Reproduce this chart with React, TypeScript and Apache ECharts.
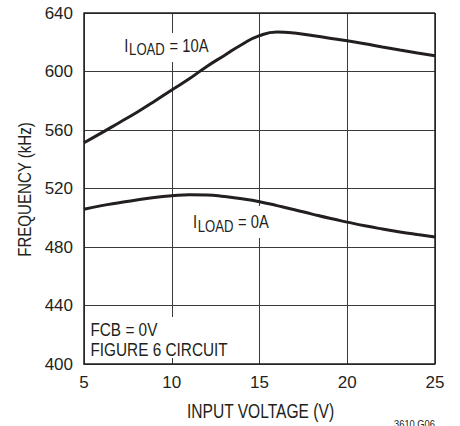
import React, { useEffect, useRef } from "react";
import * as echarts from "echarts";

const inputVoltage = [5, 6, 7, 8, 9, 10, 11, 12, 13, 14, 15, 16, 17, 18, 19, 20, 21, 22, 23, 24, 25];
const load10A = [551.3, 558, 565, 572, 579.5, 587.4, 595, 603.5, 611, 618.5, 624.5, 627, 626.3, 624.6, 622.8, 621, 619, 616.8, 614.7, 612.7, 610.8];
const load0A = [505.8, 508.3, 510.3, 512.2, 513.8, 515, 515.8, 515.6, 514.5, 513, 511, 508.3, 505.5, 502.5, 499.6, 497, 494.5, 492.3, 490.3, 488.5, 486.8];

const xAxisTitle = "INPUT VOLTAGE (V)";
const yAxisTitle = "FREQUENCY (kHz)";
const noteLines = ["FCB = 0V", "FIGURE 6 CIRCUIT"];
const figureCode = "3610 G06";

const INK = "#231f20";
const FONT = "'Liberation Sans', Arial, sans-serif";

export default function App() {
  const ref = useRef<HTMLDivElement>(null);

  useEffect(() => {
    document.body.style.margin = "0";
    if (!ref.current) return;
    const chart = echarts.init(ref.current, null, { renderer: "svg" });

    const textEl = (
      x: number,
      y: number,
      text: string,
      size: number,
      sx = 0.82,
      align = "left",
      rotation = 0
    ) => ({
      type: "text",
      x,
      y,
      z: 5,
      scaleX: sx,
      rotation,
      style: {
        text,
        fill: INK,
        font: `${size}px ${FONT}`,
        align,
        verticalAlign: "middle",
      },
    });
    const whiteBox = (x: number, y: number, w: number, h: number) => ({
      type: "rect",
      z: 4,
      shape: { x, y, width: w, height: h },
      style: { fill: "#ffffff" },
    });

    chart.setOption({
      animation: false,
      textStyle: { fontFamily: FONT },
      grid: { left: 84, right: 25, top: 13, bottom: 62, show: false },
      xAxis: {
        type: "value",
        min: 5,
        max: 25,
        interval: 5,
        axisLine: { show: true, lineStyle: { color: INK, width: 1.5 } },
        axisTick: { show: false },
        axisLabel: { fontSize: 17, color: INK, margin: 10, fontFamily: FONT },
        splitLine: { show: true, lineStyle: { color: "#3a3a3a", width: 1 } },
      },
      yAxis: {
        type: "value",
        min: 400,
        max: 640,
        interval: 40,
        axisLine: { show: true, lineStyle: { color: INK, width: 1.5 } },
        axisTick: { show: false },
        axisLabel: { fontSize: 17, color: INK, margin: 11, padding: [3, 0, 0, 0], fontFamily: FONT },
        splitLine: { show: true, lineStyle: { color: "#3a3a3a", width: 1 } },
      },
      series: [
        {
          type: "line",
          name: "ILOAD = 10A",
          data: inputVoltage.map((v, i) => [v, load10A[i]]),
          smooth: true,
          showSymbol: false,
          lineStyle: { color: INK, width: 3 },
          z: 10,
        },
        {
          type: "line",
          name: "ILOAD = 0A",
          data: inputVoltage.map((v, i) => [v, load0A[i]]),
          smooth: true,
          showSymbol: false,
          lineStyle: { color: INK, width: 3 },
          z: 10,
        },
      ],
      graphic: [
        { type: "line", z: 3, shape: { x1: 84, y1: 13, x2: 435, y2: 13 }, style: { stroke: INK, lineWidth: 1.5 } },
        { type: "line", z: 3, shape: { x1: 435, y1: 13, x2: 435, y2: 364 }, style: { stroke: INK, lineWidth: 1.5 } },
        whiteBox(121, 33, 96, 29),
        textEl(124.3, 45.5, "I", 18),
        textEl(129.1, 50, "LOAD", 16),
        textEl(165.5, 45.5, " = 10A", 18),
        whiteBox(190, 206, 86, 32),
        textEl(193, 221.7, "I", 18),
        textEl(197.8, 226.6, "LOAD", 16),
        textEl(234, 221.7, " = 0A", 18),
        whiteBox(88, 317, 144, 41),
        textEl(90.4, 330.3, noteLines[0], 18.5, 0.83),
        textEl(90.4, 349.7, noteLines[1], 18.5, 0.83),
        textEl(260.5, 411, xAxisTitle, 19.5, 0.8, "center"),
        textEl(24.5, 189.5, yAxisTitle, 19, 0.794, "center", Math.PI / 2),
        textEl(435, 424.5, figureCode, 11.4, 0.82, "right"),
      ],
    });

    return () => chart.dispose();
  }, []);

  return <div ref={ref} style={{ width: 460, height: 426 }} />;
}
